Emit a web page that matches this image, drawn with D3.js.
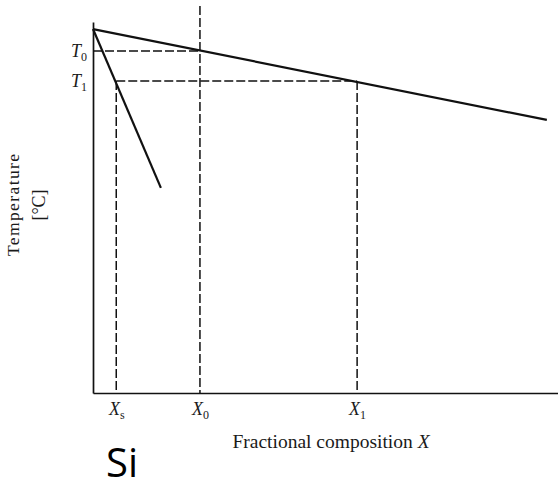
<!DOCTYPE html>
<html>
<head>
<meta charset="utf-8">
<script src="https://cdn.jsdelivr.net/npm/d3@7"></script>
<style>
  body { margin: 0; background: #fff; }
  svg { display: block; }
  .serif { font-family: "Liberation Serif", "Times New Roman", serif; fill: #1a1a1a; }
</style>
</head>
<body>
<div id="chart"></div>
<script>
const width = 558;
const height = 485;
const margin = { top: 22, right: 0, bottom: 92, left: 93 };

// composition of the marked points (fraction of the x range)
const xNames = ["s", "0", "1"];
const xValues = [0.05, 0.23, 0.568];

// temperatures (arbitrary units, 0..100 of axis height)
const tNames = ["0", "1"];
const tValues = [92.2, 84.1];

// liquidus and solidus, as [composition, temperature]
const liquidus = [[0, 98.1], [0.976, 73.6]];
const solidus = [[0, 98.1], [0.146, 55.3]];
const x0Top = 104.3;

const svg = d3
	.select("#chart")
	.append("svg")
	.attr("width", width)
	.attr("height", height);

const x = d3
	.scaleLinear()
	.domain([0, 1])
	.range([margin.left, width - margin.right]);

const y = d3
	.scaleLinear()
	.domain([0, 100])
	.range([height - margin.bottom, margin.top]);

const line = d3
	.line()
	.x((d) => x(d[0]))
	.y((d) => y(d[1]));

const dash = "9,3";

// dashed guides
svg.append("line")
	.attr("x1", x(0)).attr("x2", x(xValues[1]))
	.attr("y1", y(tValues[0])).attr("y2", y(tValues[0]))
	.attr("stroke", "#111").attr("stroke-width", 1.5).attr("stroke-dasharray", dash);

svg.append("line")
	.attr("x1", x(xValues[0])).attr("x2", x(xValues[2]))
	.attr("y1", y(tValues[1])).attr("y2", y(tValues[1]))
	.attr("stroke", "#111").attr("stroke-width", 1.5).attr("stroke-dasharray", dash);

// vertical dashed lines: Xs and X1 from T1, X0 from above the plot
const vTops = [tValues[1], x0Top, tValues[1]];
svg.selectAll(".vguide")
	.data(xValues)
	.enter()
	.append("line")
	.attr("class", "vguide")
	.attr("x1", (d) => x(d)).attr("x2", (d) => x(d))
	.attr("y1", (d, i) => y(vTops[i]))
	.attr("y2", y(0))
	.attr("stroke", "#111").attr("stroke-width", 1.5).attr("stroke-dasharray", dash);

// phase lines
svg.append("path")
	.datum(liquidus)
	.attr("fill", "none")
	.attr("stroke", "#111")
	.attr("stroke-width", 2.2)
	.attr("d", line);

svg.append("path")
	.datum(solidus)
	.attr("fill", "none")
	.attr("stroke", "#111")
	.attr("stroke-width", 2.2)
	.attr("d", line);

// axes
const xAxis = svg
	.append("g")
	.attr("transform", `translate(0,${y(0)})`)
	.call(d3.axisBottom(x).tickValues(xValues).tickSize(0).tickSizeOuter(0).tickPadding(0).tickFormat(""));

const yAxis = svg
	.append("g")
	.attr("transform", `translate(${x(0)},0)`)
	.call(d3.axisLeft(y).tickValues(tValues).tickSize(0).tickSizeOuter(0).tickPadding(0).tickFormat(""));

xAxis.select(".domain").attr("stroke", "#111").attr("stroke-width", 1.7);
yAxis.select(".domain").attr("stroke", "#111").attr("stroke-width", 1.7);

// tick labels with subscripts
xAxis.selectAll(".tick text")
	.attr("class", "serif")
	.attr("font-size", 18)
	.attr("y", 22)
	.attr("dy", 0)
	.attr("text-anchor", "middle")
	.each(function (d, i) {
		const t = d3.select(this);
		t.append("tspan").attr("font-style", "italic").text("X");
		t.append("tspan").attr("dy", 4).attr("font-size", 12).text(xNames[i]);
	});

yAxis.selectAll(".tick text")
	.attr("class", "serif")
	.attr("font-size", 18)
	.attr("x", -6)
	.attr("dy", 0)
	.attr("y", 6)
	.attr("text-anchor", "end")
	.each(function (d, i) {
		const t = d3.select(this);
		t.append("tspan").attr("font-style", "italic").text("T");
		t.append("tspan").attr("dy", 4).attr("font-size", 12).text(tNames[i]);
	});

// axis titles
svg.append("text")
	.attr("class", "serif")
	.attr("x", 331)
	.attr("y", 448)
	.attr("text-anchor", "middle")
	.attr("font-size", 19.5)
	.html('Fractional composition <tspan font-style="italic">X</tspan>');

const yTitle = svg.append("g")
	.attr("transform", "translate(0,205) rotate(-90)");

yTitle.append("text")
	.attr("class", "serif")
	.attr("x", 0)
	.attr("y", 19)
	.attr("text-anchor", "middle")
	.attr("font-size", 17.5)
	.attr("textLength", 102)
	.text("Temperature");

yTitle.append("text")
	.attr("class", "serif")
	.attr("x", 0)
	.attr("y", 45)
	.attr("text-anchor", "middle")
	.attr("font-size", 18)
	.text("[°C]");

svg.append("text")
	.attr("x", 106)
	.attr("y", 477)
	.style("font-family", "'Open Sans', sans-serif")
	.style("font-size", "40px")
	.style("fill", "#000")
	.text("Si");
</script>
</body>
</html>
